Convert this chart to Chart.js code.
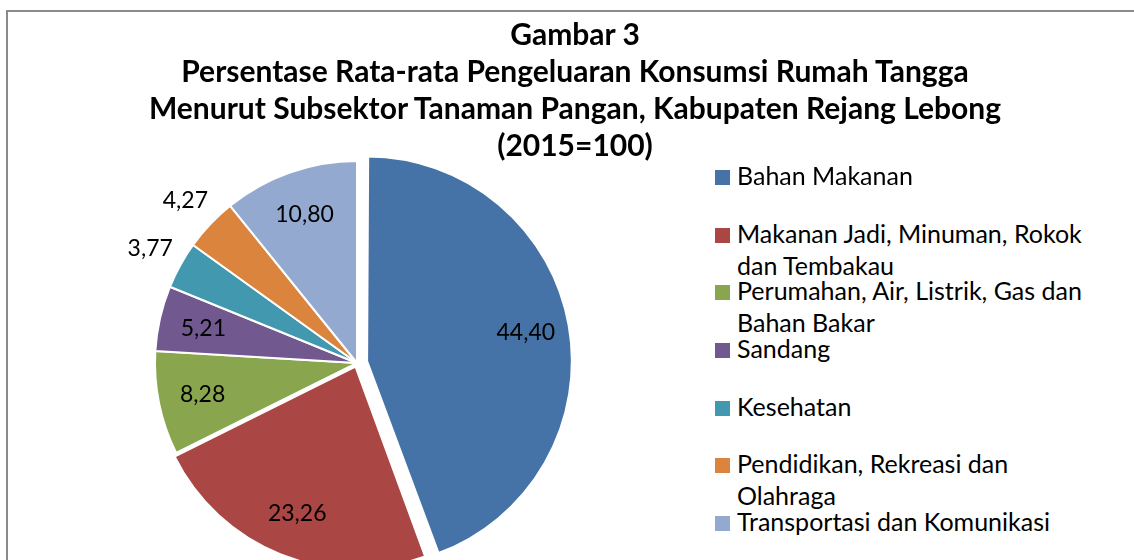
<!DOCTYPE html>
<html>
<head>
<meta charset="utf-8">
<script src="https://cdn.jsdelivr.net/npm/chart.js@4/dist/chart.umd.min.js"></script>
<style>
  html, body { margin: 0; padding: 0; background: #fff; overflow: hidden; width: 1134px; height: 560px; }
  .frame { position: absolute; left: 6px; top: 10px; width: 2000px; height: 2000px; border: 2px solid #8a8a8a; box-sizing: border-box; }
  .pie-box { position: absolute; left: 0; top: 0; width: 714px; height: 726px; }
  .title { position: absolute; left: 0; top: 15px; width: 1150px; text-align: center;
           font: bold 30px Lato, sans-serif; line-height: 37px; color: #000; }
  .legend { position: absolute; left: 715px; top: 159px; font: 25px Lato, sans-serif; color: #000; }
  .legend .item { position: relative; height: 57.7px; line-height: 32px; }
  .legend .box { position: absolute; left: 0; top: 11px; width: 15px; height: 15px; }
  .legend .txt { position: absolute; left: 22px; top: 0; white-space: nowrap; }
</style>
</head>
<body>
<div class="frame"></div>
<div class="pie-box"><canvas id="pieChart"></canvas></div>
<div class="title" id="title"></div>
<div class="legend" id="legend"></div>
<script>
// data dari gambar
const titleLines = [
  'Gambar 3',
  'Persentase Rata-rata Pengeluaran Konsumsi Rumah Tangga',
  'Menurut Subsektor Tanaman Pangan, Kabupaten Rejang Lebong',
  '(2015=100)'
];
const categories = [
  ['Bahan Makanan'],
  ['Makanan Jadi, Minuman, Rokok', 'dan Tembakau'],
  ['Perumahan, Air, Listrik, Gas dan', 'Bahan Bakar'],
  ['Sandang'],
  ['Kesehatan'],
  ['Pendidikan, Rekreasi dan', 'Olahraga'],
  ['Transportasi dan Komunikasi']
];
const values = [44.40, 23.26, 8.28, 5.21, 3.77, 4.27, 10.80];
const colors = ['#4572A7', '#AA4643', '#89A54E', '#71588F', '#4198AF', '#DB843D', '#93A9CF'];
const explode = [41, 16, 0, 0, 0, 0, 0];

const pieRadius = 202;
const explodedRadius = 198; // irisan yang ditarik keluar sedikit lebih kecil (seperti di Excel)

document.getElementById('title').innerHTML = titleLines.join('<br>');

const legendEl = document.getElementById('legend');
categories.forEach((lines, i) => {
  const item = document.createElement('div');
  item.className = 'item';
  item.innerHTML = '<div class="box" style="background:' + colors[i] + '"></div>' +
                   '<div class="txt">' + lines.join('<br>') + '</div>';
  legendEl.appendChild(item);
});

// irisan pertama sedikit mengecil
const shrinkExploded = {
  id: 'shrinkExploded',
  afterDatasetUpdate(chart, args) {
    const arc = args.meta.data[0];
    if (arc) arc.outerRadius = explodedRadius;
  }
};

// label angka di tiap irisan (format koma)
const valueLabels = {
  id: 'valueLabels',
  afterDatasetsDraw(chart) {
    const ctx = chart.ctx;
    const meta = chart.getDatasetMeta(0);
    ctx.save();
    ctx.font = '23px Lato, sans-serif';
    ctx.fillStyle = '#000';
    ctx.textAlign = 'center';
    ctx.textBaseline = 'middle';
    meta.data.forEach((arc, i) => {
      const p = arc.getProps(['x', 'y', 'startAngle', 'endAngle', 'outerRadius', 'circumference']);
      const mid = (p.startAngle + p.endAngle) / 2;
      const off = (arc.options.offset || 0) / 4;
      const fix = 1 - Math.sin(Math.min(Math.PI, p.circumference));
      const shift = off * (1 + fix);
      const r = values[i] < 5 ? p.outerRadius * 1.17 : p.outerRadius * 0.78;
      const x = p.x + Math.cos(mid) * (r + shift);
      const y = p.y + Math.sin(mid) * (r + shift);
      ctx.fillText(values[i].toFixed(2).replace('.', ','), x, y);
    });
    ctx.restore();
  }
};

const ctx = document.getElementById('pieChart').getContext('2d');
new Chart(ctx, {
  type: 'pie',
  data: {
    labels: categories.map(l => l.join(' ')),
    datasets: [{
      data: values,
      backgroundColor: colors,
      borderColor: '#ffffff',
      borderWidth: 2,
      offset: explode
    }]
  },
  options: {
    responsive: true,
    maintainAspectRatio: false,
    animation: false,
    radius: pieRadius,
    layout: { padding: 0 },
    plugins: {
      legend: { display: false },
      title: { display: false },
      tooltip: { enabled: false }
    }
  },
  plugins: [shrinkExploded, valueLabels]
});
</script>
</body>
</html>
